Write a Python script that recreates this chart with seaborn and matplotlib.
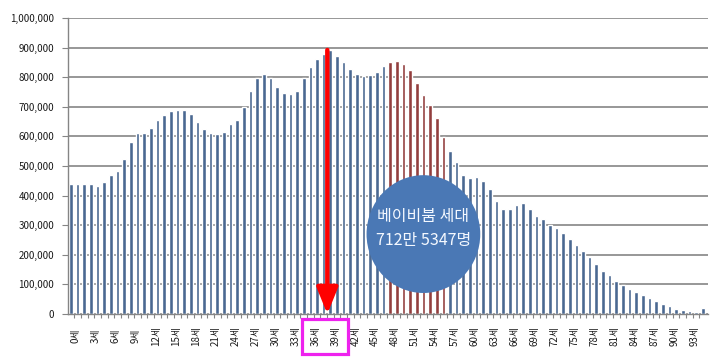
import numpy as np
import pandas as pd
import matplotlib
matplotlib.use("Agg")
import matplotlib.pyplot as plt
import matplotlib.transforms as mtransforms
from matplotlib.patches import Ellipse, Rectangle
import seaborn as sns

# ---- data ----
ages = list(range(0, 96))
population = [
    438000, 438000, 440000, 440000, 432000, 446000, 470000, 484000, 522000, 582000,
    612000, 612000, 630000, 655000, 671000, 685000, 688000, 689000, 676000, 649000,
    625000, 611000, 607000, 616000, 641000, 655000, 699000, 752000, 796000, 811000,
    797000, 768000, 748000, 742000, 753000, 796000, 833000, 860000, 878000, 892000,
    873000, 850000, 827000, 810000, 805000, 807000, 819000, 838000, 850000, 854000,
    846000, 824000, 779000, 740000, 706000, 661000, 597000, 552000, 514000, 470000,
    459000, 464000, 450000, 421000, 381000, 355000, 355000, 368000, 374000, 355000,
    332000, 320000, 302000, 291000, 275000, 253000, 233000, 214000, 194000, 169000,
    146000, 131000, 113000, 99000, 84000, 73000, 63000, 55000, 45000, 34000,
    27000, 16000, 14000, 10000, 7000, 19000,
]
boomer_ages = list(range(48, 57))
tick_ages = list(range(0, 94, 3))
tick_labels = [f"{a}세" for a in tick_ages]
y_ticks = list(range(0, 1000001, 100000))
y_labels = [f"{v:,}" for v in y_ticks]
callout_lines = ["베이비붐 세대", "712만 5347명"]
arrow_age = 39
highlight_ages = [36, 39]

group = ["boomer" if a in boomer_ages else "other" for a in ages]
df = pd.DataFrame({"age": ages, "population": population, "group": group})

# ---- figure ----
sns.set_theme(style="white")
plt.rcParams["font.family"] = ["Noto Sans CJK KR", "DejaVu Sans"]

W, H = 715, 362
fig = plt.figure(figsize=(W / 100, H / 100), dpi=100)
ax = fig.add_axes([68 / W, (H - 314) / H, (708 - 68) / W, (314 - 18) / H])

sns.barplot(data=df, x="age", y="population", hue="group",
            palette={"other": "#4a6891", "boomer": "#923e3d"},
            dodge=False, width=0.55, legend=False, ax=ax, errorbar=None,
            saturation=1)

ax.set_xlim(-0.45, 95.8)
ax.set_ylim(0, 1000000)
ax.set_xlabel("")
ax.set_ylabel("")

# gridlines
ax.set_yticks(y_ticks)
ax.set_yticklabels(y_labels, fontsize=7, color="#1a1a1a", fontweight="medium")
ax.yaxis.grid(True, color="#858585", linewidth=1.2)
ax.set_axisbelow(True)
ax.tick_params(axis="y", length=4, width=0.8, color="#858585", pad=6, left=True)

# x ticks
ax.set_xticks(tick_ages)
ax.set_xticklabels(tick_labels, rotation=90, fontsize=7, color="#1a1a1a", va="center")
ax.set_xticks([i - 0.5 for i in range(1, 96)], minor=True)
ax.tick_params(axis="x", which="major", length=0, pad=15.8)
ax.tick_params(axis="x", which="minor", length=3, width=0.8, color="#858585", bottom=True)
offset = mtransforms.ScaledTranslation(5 / 100, 0, fig.dpi_scale_trans)
for lab in ax.get_xticklabels():
    lab.set_transform(lab.get_transform() + offset)

for s in ["top", "right"]:
    ax.spines[s].set_visible(False)
for s in ["left", "bottom"]:
    ax.spines[s].set_color("#858585")
    ax.spines[s].set_linewidth(1.0)

# red arrow
ax.annotate("", xy=(arrow_age - 0.45, 0), xytext=(arrow_age - 0.45, population[arrow_age]),
            arrowprops=dict(arrowstyle="-|>,head_length=1.6,head_width=0.65",
                            color="#ff0000", lw=3.2, mutation_scale=10,
                            shrinkA=0, shrinkB=0))

# callout circle
ell = Ellipse((53.0, 270000), width=17.1, height=398000, facecolor="#4a78b5",
              edgecolor="none", zorder=5)
ax.add_patch(ell)
ax.text(53.0, 328000, callout_lines[0], ha="center", va="center", fontsize=11.5,
        color="#f4f8ff", zorder=6)
ax.text(53.0, 250000, callout_lines[1], ha="center", va="center", fontsize=11.5,
        color="#f4f8ff", zorder=6)

# magenta box around highlighted labels
trans = mtransforms.blended_transform_factory(ax.transData, fig.transFigure)
x0 = highlight_ages[0] - 1.3
x1 = highlight_ages[1] + 2.7
rect = Rectangle((x0, (H - 354) / H), x1 - x0, 35 / H, transform=trans,
                 fill=False, edgecolor="#ee22ee", linewidth=2.3, clip_on=False)
fig.patches.append(rect)

fig.savefig("out.png", dpi=100)
